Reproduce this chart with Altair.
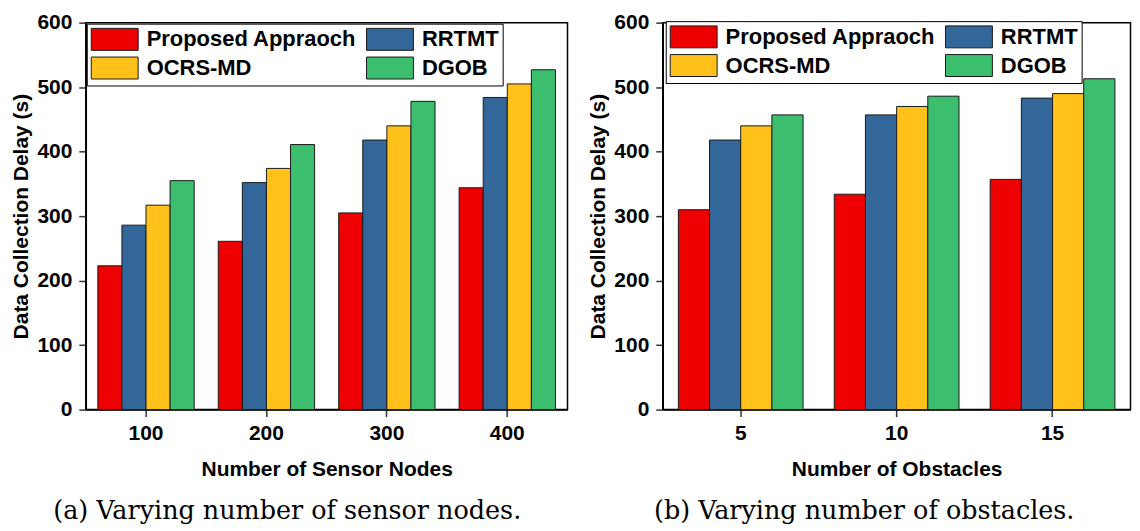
import altair as alt
import pandas as pd

series = ["Proposed Appraoch", "RRTMT", "OCRS-MD", "DGOB"]
colors = ["#EE0000", "#336699", "#FFC11A", "#3BBF6F"]
# legend is laid out column by column, so this order gives the reference's row layout
legend_order = ["Proposed Appraoch", "OCRS-MD", "RRTMT", "DGOB"]
legend_colors = ["#EE0000", "#FFC11A", "#336699", "#3BBF6F"]

nodes = ["100", "200", "300", "400"]
nodes_proposed = [223, 261, 305, 344]
nodes_rrtmt = [286, 352, 418, 484]
nodes_ocrs = [317, 374, 440, 505]
nodes_dgob = [355, 411, 478, 527]

obstacles = ["5", "10", "15"]
obs_proposed = [310, 334, 357]
obs_rrtmt = [418, 457, 483]
obs_ocrs = [440, 470, 490]
obs_dgob = [457, 486, 513]

y_ticks = [0, 100, 200, 300, 400, 500, 600]

FONT = "Liberation Sans"


def make_df(cats, vals):
    rows = []
    for s, vs in zip(series, vals):
        for c, v in zip(cats, vs):
            rows.append({"cat": c, "series": s, "value": v})
    return pd.DataFrame(rows)


df_a = make_df(nodes, [nodes_proposed, nodes_rrtmt, nodes_ocrs, nodes_dgob])
df_b = make_df(obstacles, [obs_proposed, obs_rrtmt, obs_ocrs, obs_dgob])

# wide rectangle symbol: nominal size 22px, drawn 47 x 22
rect_path = "M-1,-1H3.273V1H-1Z"


def panel(df, cats, xtitle, caption, width, lx, ly, cdx):
    return (
        alt.Chart(df)
        .mark_bar(stroke="#1a1a1a", strokeWidth=1)
        .encode(
            x=alt.X(
                "cat:N",
                sort=cats,
                scale=alt.Scale(paddingInner=0.2, paddingOuter=0.1),
                axis=alt.Axis(title=xtitle, labelAngle=0, labelPadding=6, titlePadding=15),
            ),
            xOffset=alt.XOffset(
                "series:N", sort=series, scale=alt.Scale(paddingInner=0, paddingOuter=0)
            ),
            y=alt.Y(
                "value:Q",
                scale=alt.Scale(domain=[0, 600], nice=False),
                axis=alt.Axis(values=y_ticks, title="Data Collection Delay (s)",
                              labelPadding=7, titlePadding=5),
            ),
            color=alt.Color(
                "series:N",
                scale=alt.Scale(domain=legend_order, range=legend_colors),
                legend=alt.Legend(
                    orient="none",
                    legendX=lx,
                    legendY=ly,
                    columns=2,
                    title=None,
                    symbolType=rect_path,
                    symbolSize=484,
                    symbolStrokeColor="#1a1a1a",
                    symbolStrokeWidth=1,
                    symbolOpacity=1,
                    labelFont=FONT,
                    labelFontWeight="bold",
                    labelFontSize=22,
                    labelColor="black",
                    labelOffset=33,
                    labelLimit=400,
                    columnPadding=7,
                    rowPadding=2,
                    padding=4,
                    strokeColor="black",
                    fillColor="white",
                    cornerRadius=0,
                ),
            ),
        )
        .properties(
            width=width,
            height=388,
            title=alt.TitleParams(
                caption,
                orient="bottom",
                anchor="middle",
                frame="bounds",
                font="DejaVu Serif",
                fontSize=25.5,
                fontWeight="normal",
                color="black",
                offset=20,
                dx=cdx,
            ),
        )
    )


left = panel(df_a, nodes, "Number of Sensor Nodes", "(a) Varying number of sensor nodes.", 483, 1, 1, -2)
right = panel(df_b, obstacles, "Number of Obstacles", "(b) Varying number of obstacles.", 469, 3, -1.5, 5)

chart = (
    alt.hconcat(left, right, spacing=18.5)
    .resolve_scale(x="independent", xOffset="independent")
    .resolve_legend(color="independent")
    .configure(padding={"left": 2, "top": 2, "right": 0, "bottom": 0})
    .configure_view(stroke="black", strokeWidth=1.5)
    .configure_axis(
        grid=False,
        labelFont=FONT,
        labelFontWeight="bold",
        labelFontSize=21,
        labelColor="black",
        titleFont=FONT,
        titleFontWeight="bold",
        titleFontSize=21,
        titleColor="black",
        domainColor="black",
        domainWidth=1.5,
        tickColor="#333333",
        tickWidth=1.5,
        tickSize=7,
    )
)

chart.save("out.html", embed_options={"renderer": "svg", "actions": False})
